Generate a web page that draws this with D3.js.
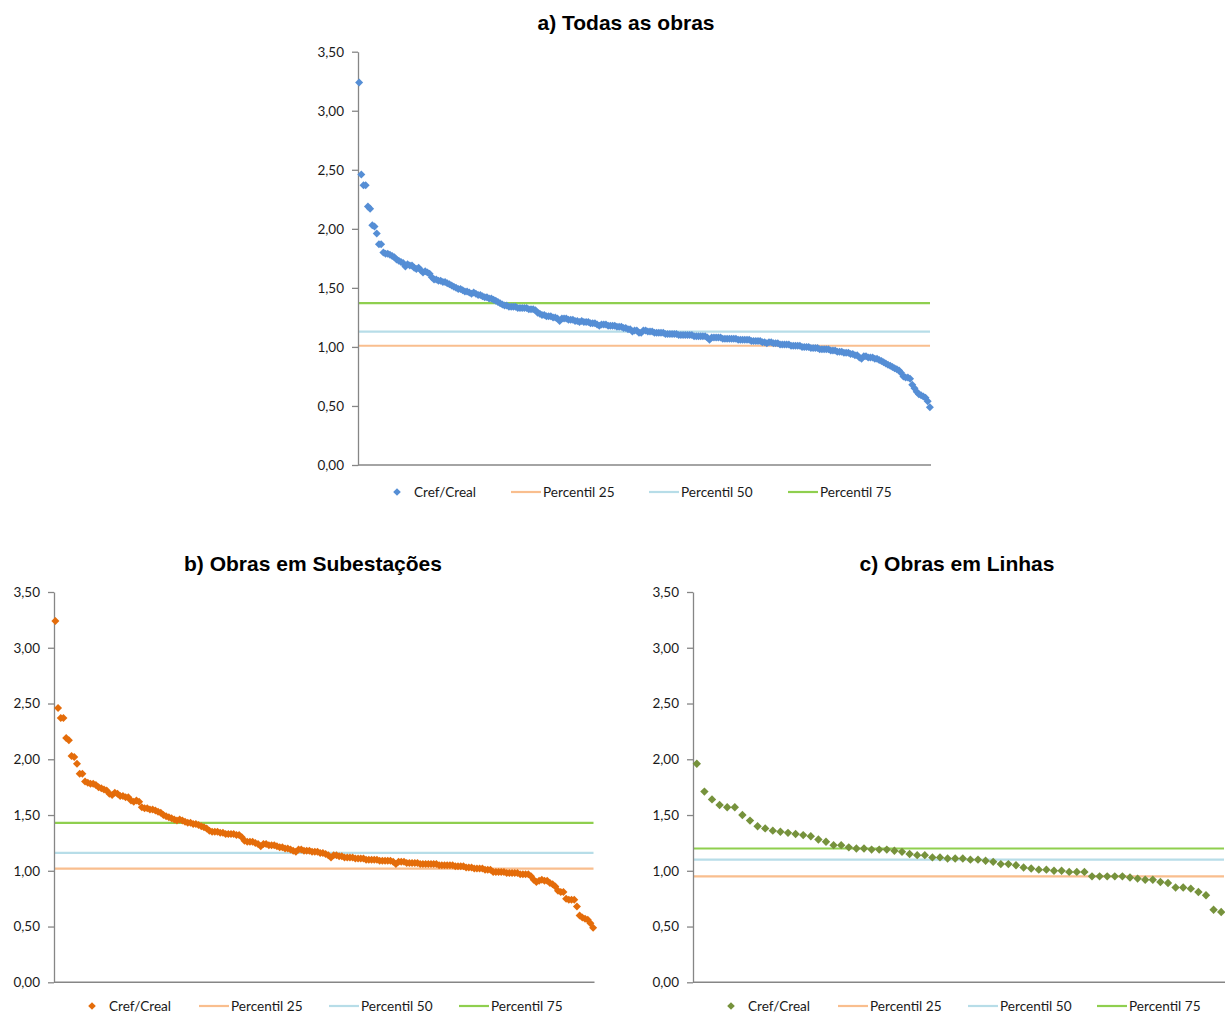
<!DOCTYPE html>
<html>
<head>
<meta charset="utf-8">
<script src="https://cdn.jsdelivr.net/npm/d3@7/dist/d3.min.js"></script>
<style>
  html, body { margin: 0; padding: 0; background: #fff; }
  svg { display: block; }
  .tick text { font-family: Lato, "Open Sans", sans-serif; font-size: 13.5px; fill: #1a1a1a; }
  .legend text { font-family: Lato, "Open Sans", sans-serif; font-size: 13.6px; fill: #1a1a1a; }
  .title { font-family: "Liberation Sans", Arial, sans-serif; font-weight: bold; font-size: 21px; fill: #000; }
</style>
</head>
<body>
<svg id="chart" width="1225" height="1014"></svg>
<script>
// Cref/Creal ratio per project, sorted in descending order
const crefTodas = [
  3.24, 2.46, 2.37, 2.37, 2.19, 2.17, 2.03, 2.02, 1.96, 1.87,
  1.87, 1.80, 1.79, 1.79, 1.78, 1.77, 1.76, 1.74, 1.73, 1.72,
  1.71, 1.68, 1.70, 1.69, 1.69, 1.67, 1.66, 1.67, 1.65, 1.63,
  1.64, 1.63, 1.62, 1.59, 1.57, 1.57, 1.56, 1.56, 1.55, 1.55,
  1.54, 1.53, 1.52, 1.51, 1.50, 1.49, 1.49, 1.48, 1.47, 1.47,
  1.46, 1.45, 1.46, 1.45, 1.44, 1.44, 1.43, 1.42, 1.42, 1.41,
  1.41, 1.40, 1.39, 1.38, 1.37, 1.36, 1.35, 1.35, 1.34, 1.34,
  1.34, 1.34, 1.33, 1.33, 1.33, 1.33, 1.33, 1.32, 1.32, 1.32,
  1.31, 1.29, 1.28, 1.27, 1.27, 1.26, 1.26, 1.26, 1.25, 1.25,
  1.24, 1.22, 1.24, 1.24, 1.24, 1.23, 1.23, 1.23, 1.22, 1.22,
  1.21, 1.22, 1.21, 1.21, 1.21, 1.20, 1.20, 1.20, 1.19, 1.18,
  1.19, 1.19, 1.19, 1.18, 1.18, 1.18, 1.18, 1.17, 1.17, 1.17,
  1.16, 1.16, 1.15, 1.15, 1.13, 1.14, 1.14, 1.12, 1.12, 1.14,
  1.14, 1.13, 1.13, 1.13, 1.12, 1.12, 1.12, 1.12, 1.12, 1.11,
  1.11, 1.11, 1.11, 1.11, 1.11, 1.10, 1.10, 1.10, 1.10, 1.10,
  1.10, 1.10, 1.09, 1.09, 1.09, 1.09, 1.09, 1.09, 1.08, 1.06,
  1.08, 1.08, 1.08, 1.08, 1.08, 1.07, 1.07, 1.07, 1.07, 1.07,
  1.07, 1.07, 1.06, 1.06, 1.06, 1.06, 1.06, 1.06, 1.05, 1.05,
  1.05, 1.05, 1.05, 1.04, 1.04, 1.03, 1.04, 1.04, 1.03, 1.03,
  1.03, 1.02, 1.02, 1.02, 1.02, 1.02, 1.01, 1.01, 1.01, 1.01,
  1.01, 1.00, 1.00, 1.00, 1.00, 0.99, 0.99, 0.99, 0.99, 0.98,
  0.98, 0.98, 0.98, 0.98, 0.97, 0.97, 0.97, 0.96, 0.96, 0.96,
  0.95, 0.95, 0.95, 0.94, 0.94, 0.93, 0.93, 0.91, 0.90, 0.92,
  0.92, 0.91, 0.91, 0.91, 0.90, 0.90, 0.89, 0.88, 0.87, 0.86,
  0.85, 0.84, 0.83, 0.82, 0.81, 0.80, 0.78, 0.75, 0.74, 0.74,
  0.73, 0.68, 0.65, 0.62, 0.60, 0.59, 0.58, 0.57, 0.54, 0.49
];

const crefSubestacoes = [
  3.24, 2.46, 2.37, 2.37, 2.19, 2.17, 2.03, 2.02, 1.96, 1.87,
  1.87, 1.80, 1.79, 1.78, 1.78, 1.77, 1.75, 1.74, 1.73, 1.72,
  1.69, 1.68, 1.70, 1.69, 1.67, 1.67, 1.66, 1.66, 1.63, 1.62,
  1.63, 1.62, 1.57, 1.56, 1.56, 1.55, 1.55, 1.54, 1.53, 1.52,
  1.50, 1.49, 1.48, 1.47, 1.46, 1.45, 1.46, 1.45, 1.44, 1.43,
  1.43, 1.42, 1.42, 1.41, 1.40, 1.39, 1.38, 1.36, 1.35, 1.35,
  1.35, 1.34, 1.34, 1.33, 1.33, 1.33, 1.33, 1.32, 1.32, 1.30,
  1.27, 1.26, 1.26, 1.26, 1.25, 1.24, 1.22, 1.24, 1.24, 1.23,
  1.23, 1.23, 1.22, 1.21, 1.21, 1.20, 1.20, 1.19, 1.18, 1.17,
  1.19, 1.19, 1.18, 1.18, 1.18, 1.17, 1.17, 1.17, 1.16, 1.16,
  1.15, 1.14, 1.12, 1.14, 1.14, 1.13, 1.13, 1.12, 1.12, 1.12,
  1.12, 1.11, 1.11, 1.11, 1.11, 1.10, 1.10, 1.10, 1.10, 1.10,
  1.09, 1.09, 1.09, 1.09, 1.09, 1.08, 1.06, 1.08, 1.08, 1.08,
  1.07, 1.07, 1.07, 1.07, 1.07, 1.06, 1.06, 1.06, 1.06, 1.06,
  1.06, 1.06, 1.05, 1.05, 1.05, 1.05, 1.05, 1.05, 1.04, 1.04,
  1.04, 1.04, 1.03, 1.03, 1.03, 1.02, 1.02, 1.02, 1.02, 1.01,
  1.01, 1.01, 0.99, 0.99, 0.99, 0.99, 0.99, 0.98, 0.98, 0.98,
  0.98, 0.98, 0.97, 0.97, 0.97, 0.97, 0.95, 0.92, 0.90, 0.91,
  0.92, 0.91, 0.91, 0.89, 0.88, 0.86, 0.82, 0.81, 0.81, 0.75,
  0.74, 0.74, 0.74, 0.68, 0.60, 0.58, 0.57, 0.56, 0.53, 0.49
];

const crefLinhas = [
  1.96, 1.71, 1.64, 1.59, 1.57, 1.57, 1.50, 1.45, 1.40, 1.38,
  1.36, 1.35, 1.34, 1.33, 1.32, 1.31, 1.28, 1.26, 1.23, 1.23,
  1.21, 1.20, 1.20, 1.19, 1.19, 1.19, 1.18, 1.17, 1.15, 1.14,
  1.14, 1.12, 1.12, 1.11, 1.11, 1.11, 1.10, 1.10, 1.09, 1.08,
  1.06, 1.06, 1.05, 1.03, 1.02, 1.01, 1.01, 1.00, 1.00, 0.99,
  0.99, 0.99, 0.95, 0.95, 0.95, 0.95, 0.95, 0.94, 0.93, 0.92,
  0.92, 0.90, 0.89, 0.85, 0.85, 0.84, 0.81, 0.78, 0.65, 0.63
];

// Percentis 25, 50 e 75 de cada conjunto
const percentisTodas = [1.01, 1.13, 1.37];
const percentisSubestacoes = [1.02, 1.16, 1.43];
const percentisLinhas = [0.95, 1.10, 1.20];

const titulos = ["a) Todas as obras", "b) Obras em Subestações", "c) Obras em Linhas"];
const legendaSerie = "Cref/Creal";
const legendaPercentis = ["Percentil 25", "Percentil 50", "Percentil 75"];
const yTicks = [0, 0.5, 1, 1.5, 2, 2.5, 3, 3.5];

const percentilColors = ["#f9be8e", "#b7dde8", "#8fcf4f"];
const axisColor = "#868686";

const locale = d3.formatLocale({ decimal: ",", thousands: ".", grouping: [3], currency: ["R$", ""] });
const fmt = locale.format(".2f");

// Panel layout
const panels = [
  { title: titulos[0], values: crefTodas, perc: percentisTodas, color: "#558ed5", r: 4,
    left: 358, right: 931, top: 51.7, bottom: 465, titleX: 626, titleY: 22,
    legendY: 492, legendX: [397, 511, 649, 788] },
  { title: titulos[1], values: crefSubestacoes, perc: percentisSubestacoes, color: "#e46c0a", r: 4,
    left: 54, right: 594.5, top: 592, bottom: 982.3, titleX: 313, titleY: 563,
    legendY: 1006, legendX: [92, 199, 329, 459] },
  { title: titulos[2], values: crefLinhas, perc: percentisLinhas, color: "#76923c", r: 4.2,
    left: 693, right: 1225, top: 592, bottom: 982.3, titleX: 957, titleY: 563,
    legendY: 1006, legendX: [731, 838, 968, 1097] }
];

const svg = d3.select("#chart");

function diamond(cx, cy, r) {
  return `M${cx},${cy - r}L${cx + r},${cy}L${cx},${cy + r}L${cx - r},${cy}Z`;
}

panels.forEach(p => {
  const g = svg.append("g");
  const x = d3.scalePoint()
    .domain(d3.range(p.values.length))
    .range([p.left, p.right])
    .padding(0.5);
  const y = d3.scaleLinear().domain([0, 3.5]).range([p.bottom, p.top]);

  // Title
  g.append("text")
    .attr("class", "title")
    .attr("x", p.titleX)
    .attr("y", p.titleY)
    .attr("text-anchor", "middle")
    .attr("dominant-baseline", "central")
    .text(p.title);

  // Percentile reference lines
  g.selectAll("line.perc")
    .data(p.perc)
    .join("line")
    .attr("class", "perc")
    .attr("x1", p.left)
    .attr("x2", p.right - 1)
    .attr("y1", d => y(d))
    .attr("y2", d => y(d))
    .attr("stroke", (d, i) => percentilColors[i])
    .attr("stroke-width", 2.2);

  // Y axis
  const yAxis = d3.axisLeft(y)
    .tickValues(yTicks)
    .tickFormat(fmt)
    .tickSizeInner(6)
    .tickSizeOuter(0)
    .tickPadding(8);
  const ag = g.append("g")
    .attr("transform", `translate(${p.left},0)`)
    .call(yAxis);
  ag.select(".domain").attr("stroke", axisColor).attr("stroke-width", 1.3);
  ag.selectAll(".tick line").attr("stroke", axisColor).attr("stroke-width", 1.3);

  // X axis baseline
  g.append("line")
    .attr("x1", p.left)
    .attr("x2", p.right)
    .attr("y1", y(0))
    .attr("y2", y(0))
    .attr("stroke", axisColor)
    .attr("stroke-width", 1.5);

  // Data markers
  g.append("g")
    .selectAll("path")
    .data(p.values)
    .join("path")
    .attr("d", (d, i) => diamond(x(i), y(d), p.r))
    .attr("fill", p.color);

  // Legend
  const lg = g.append("g").attr("class", "legend");
  lg.append("path")
    .attr("d", diamond(p.legendX[0], p.legendY, 3.8))
    .attr("fill", p.color);
  lg.append("text")
    .attr("x", p.legendX[0] + 17)
    .attr("y", p.legendY)
    .attr("dominant-baseline", "central")
    .text(legendaSerie);
  legendaPercentis.forEach((lab, i) => {
    const lx = p.legendX[i + 1];
    lg.append("line")
      .attr("x1", lx).attr("x2", lx + 30)
      .attr("y1", p.legendY).attr("y2", p.legendY)
      .attr("stroke", percentilColors[i])
      .attr("stroke-width", 2.2);
    lg.append("text")
      .attr("x", lx + 32)
      .attr("y", p.legendY)
      .attr("dominant-baseline", "central")
      .text(lab);
  });
});
</script>
</body>
</html>
